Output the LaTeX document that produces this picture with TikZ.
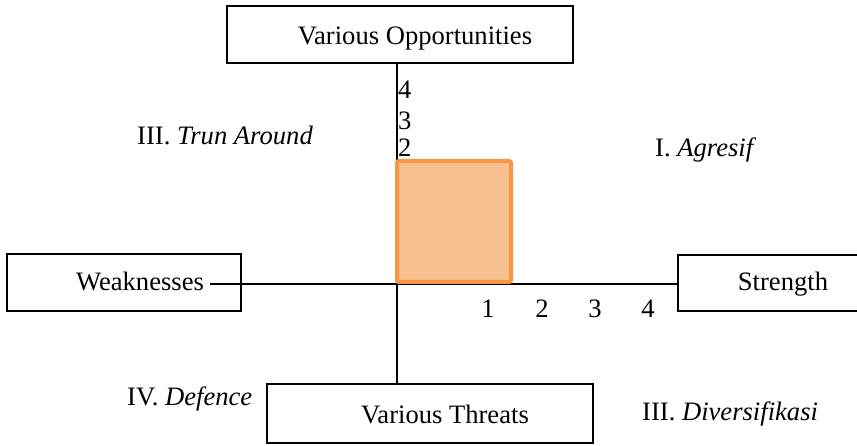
\documentclass[tikz,border=0pt]{standalone}
\usepackage{fontspec}
\setmainfont{LiberationSerif}[Extension=.ttf, UprightFont=*-Regular, ItalicFont=*-Italic, BoldFont=*-Bold]
\definecolor{orfill}{HTML}{F9C08F}
\definecolor{orline}{HTML}{F79646}
\begin{document}
\begin{tikzpicture}[x=1pt,y=-1pt,
  box/.style={draw, line width=1.8pt, inner sep=0pt},
  txt/.style={anchor=base, inner sep=0pt, font=\fontsize{26.6}{30}\selectfont},
  lbl/.style={anchor=base west, inner sep=0pt, font=\fontsize{26.6}{30}\selectfont},
  axis/.style={line width=1.3pt}]
\useasboundingbox (0,0) rectangle (857,446);
% boxes
\node[box, minimum width=346pt, minimum height=57pt] (o) at (400,34.5) {};
\node[box, minimum width=234pt, minimum height=57pt] (w) at (124,282.5) {};
\node[box, minimum width=240pt, minimum height=56pt] (s) at (798,283) {};
\node[box, minimum width=326pt, minimum height=59pt] (t) at (430,413.5) {};
% box texts
\node[txt] (ot) at (415,45) {Various Opportunities};
\node[txt] (wt) at (140,291) {Weaknesses};
\node[txt] (st) at (783,291) {Strength};
\node[txt] (tt) at (445,423) {Various Threats};
% axes
\coordinate (c) at (397,284);
\draw[axis] (o.south -| c) -- (t.north -| c);
\draw[axis] ([xshift=6pt]wt.east |- c) -- (s.west |- c);
% scale numbers
\node[lbl] (v4) at (398,99) {4};
\node[lbl] (v3) at (398,130) {3};
\node[lbl] (v2) at (398,157) {2};
\node[txt] (h1) at (488,318) {1};
\node[txt] (h2) at (542,318) {2};
\node[txt] (h3) at (595,318) {3};
\node[txt] (h4) at (648,318) {4};
% orange square
\draw[orline, fill=orfill, line width=4pt, rounded corners=2pt] (397,161) rectangle (511,282);
% quadrant labels
\node[lbl] (q3) at (137,145) {III. \textit{Trun Around}};
\node[lbl] (q1) at (655,157) {I. \textit{Agresif}};
\node[lbl] (q4) at (127,405) {IV. \textit{Defence}};
\node[lbl] (q2) at (642,420) {III. \textit{Diversifikasi}};
\end{tikzpicture}
\end{document}
